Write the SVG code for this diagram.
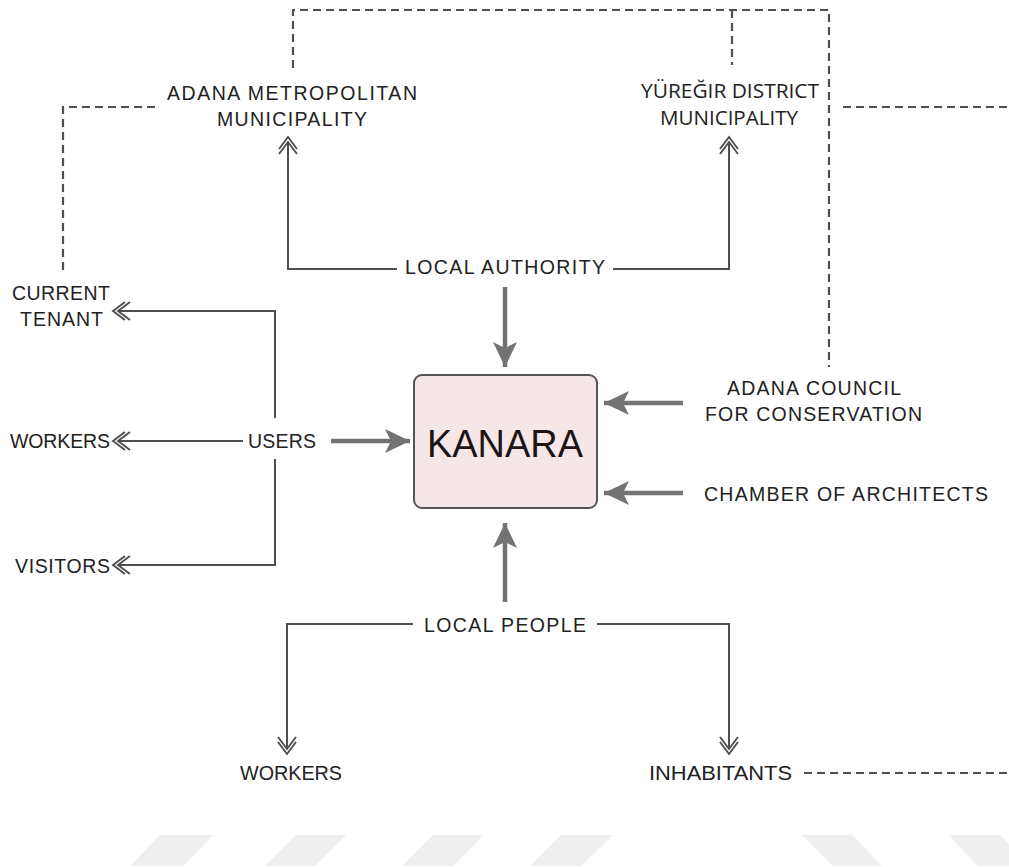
<svg xmlns="http://www.w3.org/2000/svg" width="1009" height="867" viewBox="0 0 1009 867">
  <style>
    .lbl { font-family: "Liberation Sans", Arial, sans-serif; font-size: 19.5px; fill: #222; }
    .lbl2 { font-family: "Open Sans", "Noto Sans", sans-serif; font-size: 20px; fill: #222; }
    .title { font-family: "Liberation Sans", Arial, sans-serif; font-size: 38px; fill: #1c1414; }
    .thin { fill: none; stroke: #4f4f4f; stroke-width: 2; marker-end: url(#chev); }
    .thick { fill: none; stroke: #737373; stroke-width: 4.5; marker-end: url(#head); }
    .dash { fill: none; stroke: #505050; stroke-width: 2.2; stroke-dasharray: 8 5; }
    .wm { fill: #efefef; }
  </style>
  <defs>
    <!-- open double chevron; the line stops at the inner tip -->
    <marker id="chev" markerUnits="userSpaceOnUse" viewBox="-15 -12 24 24" markerWidth="24" markerHeight="24" refX="0" refY="0" orient="auto">
      <path d="M-7,-9 L5,0 L-7,9 M-12,-9 L0,0 L-12,9" fill="none" stroke="#4f4f4f" stroke-width="1.9"/>
    </marker>
    <!-- solid barbed head for the heavy arrows -->
    <marker id="head" markerUnits="userSpaceOnUse" viewBox="-28 -14 30 28" markerWidth="30" markerHeight="28" refX="0" refY="0" orient="auto">
      <path d="M0,0 L-25,-12 L-19,0 L-25,12 Z" fill="#737373"/>
    </marker>
  </defs>

  <rect width="1009" height="867" fill="#fff"/>

  <!-- faint band of slanted bars along the bottom -->
  <g id="band">
    <polygon class="wm" points="160,835 213,835 183,866 130,866"/>
    <polygon class="wm" points="296,835 346,835 315,866 265,866"/>
    <polygon class="wm" points="433,835 484,835 453,866 402,866"/>
    <polygon class="wm" points="561,835 613,835 581,866 530,866"/>
    <polygon class="wm" points="802,835 852,835 882,866 833,866"/>
    <polygon class="wm" points="948,835 1000,835 1030,866 978,866"/>
  </g>

  <g id="connectors">
    <!-- dashed relations -->
    <path class="dash" d="M63,270 V107 H157"/>
    <path class="dash" d="M293,68 V10 H829 V367"/>
    <path class="dash" d="M732,10 V65"/>
    <path class="dash" d="M843,107 H1009"/>
    <path class="dash" d="M804,773 H1009"/>

    <!-- local authority branches -->
    <path class="thin" d="M397,269 H288 V142"/>
    <path class="thin" d="M613,269 H729 V142"/>

    <!-- users branches -->
    <path class="thin" d="M275,418 V311 H118"/>
    <path class="thin" d="M243,441 H118"/>
    <path class="thin" d="M275,459 V565 H118"/>

    <!-- local people branches -->
    <path class="thin" d="M413,624 H287 V749"/>
    <path class="thin" d="M597,624 H729 V749"/>

    <!-- heavy arrows into the centre -->
    <path class="thick" d="M505,287 V367"/>
    <path class="thick" d="M331,441 H410"/>
    <path class="thick" d="M683,403 H604"/>
    <path class="thick" d="M683,493 H604"/>
    <path class="thick" d="M505,602 V523"/>
  </g>

  <g id="kanara">
    <rect x="414" y="375" width="183" height="133" rx="8" fill="#f5e7e7" stroke="#555" stroke-width="2"/>
    <text class="title" x="427" y="457" textLength="156" lengthAdjust="spacingAndGlyphs">KANARA</text>
  </g>

  <g id="adana-metropolitan">
    <text class="lbl" x="167" y="100" textLength="250">ADANA METROPOLITAN</text>
    <text class="lbl" x="217" y="126" textLength="150">MUNICIPALITY</text>
  </g>

  <g id="yuregir">
    <text class="lbl2" x="641" y="98" textLength="178" lengthAdjust="spacingAndGlyphs">YÜREĞIR DISTRICT</text>
    <text class="lbl2" x="660" y="125" textLength="138" lengthAdjust="spacingAndGlyphs">MUNICIPALITY</text>
  </g>

  <g id="local-authority">
    <text class="lbl" x="405" y="274" textLength="200">LOCAL AUTHORITY</text>
  </g>

  <g id="current-tenant">
    <text class="lbl" x="12" y="300" textLength="98">CURRENT</text>
    <text class="lbl" x="20" y="326" textLength="83">TENANT</text>
  </g>

  <g id="users-workers">
    <text class="lbl" x="10" y="448" textLength="100">WORKERS</text>
  </g>

  <g id="users">
    <text class="lbl" x="248" y="448" textLength="68">USERS</text>
  </g>

  <g id="visitors">
    <text class="lbl" x="15" y="573" textLength="95">VISITORS</text>
  </g>

  <g id="council">
    <text class="lbl" x="727" y="395" textLength="174">ADANA COUNCIL</text>
    <text class="lbl" x="705" y="421" textLength="217">FOR CONSERVATION</text>
  </g>

  <g id="chamber">
    <text class="lbl" x="704" y="501" textLength="284">CHAMBER OF ARCHITECTS</text>
  </g>

  <g id="local-people">
    <text class="lbl" x="424" y="632" textLength="162">LOCAL PEOPLE</text>
  </g>

  <g id="people-workers">
    <text class="lbl" x="240" y="780" textLength="102" lengthAdjust="spacingAndGlyphs">WORKERS</text>
  </g>

  <g id="inhabitants">
    <text class="lbl" x="649" y="780" textLength="143" lengthAdjust="spacingAndGlyphs">INHABITANTS</text>
  </g>
</svg>
